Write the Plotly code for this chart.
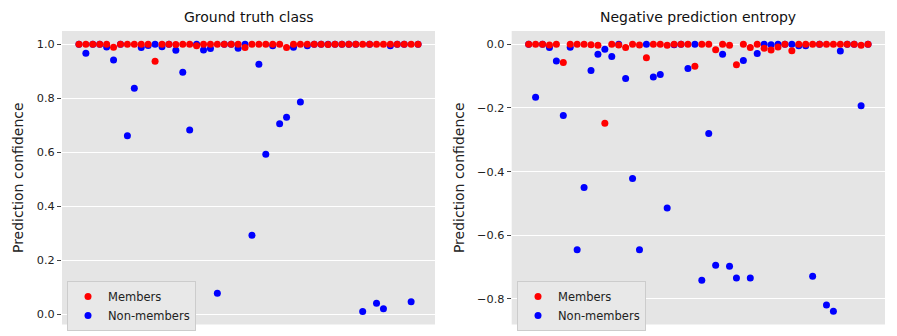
"""Prediction confidence of members vs non-members: ground truth class and negative entropy."""
import plotly.graph_objects as go

# sample index 0..49 (x ticks hidden)
idx = list(range(50))

# left panel: confidence on the ground-truth class
gt_members = [
    1.0, 1.0, 1.0, 1.0, 1.0, 0.989, 1.0, 1.0, 1.0, 1.0,
    1.0, 0.937, 1.0, 1.0, 0.999, 1.0, 1.0, 0.994, 1.0, 1.0,
    1.0, 1.0, 1.0, 1.0, 0.988, 1.0, 1.0, 1.0, 1.0, 1.0,
    0.988, 1.0, 1.0, 1.0, 1.0, 1.0, 0.999, 1.0, 1.0, 1.0,
    1.0, 1.0, 1.0, 1.0, 1.0, 1.0, 1.0, 1.0, 1.0, 1.0,
]
gt_nonmembers = [
    1.0, 0.967, 1.0, 1.0, 0.99, 0.942, 1.0, 0.661, 0.837, 0.988,
    0.995, 1.0, 0.991, 1.0, 0.978, 0.896, 0.683, 1.0, 0.979, 0.984,
    0.079, 1.0, 1.0, 0.985, 1.0, 0.293, 0.926, 0.593, 0.994, 0.706,
    0.730, 0.989, 0.786, 0.994, 1.0, 1.0, 1.0, 1.0, 1.0, 1.0,
    1.0, 0.011, 1.0, 0.042, 0.021, 0.994, 1.0, 1.0, 0.047, 1.0,
]

# right panel: negative prediction entropy
ent_members = [
    0.0, 0.0, 0.0, -0.002, 0.0, -0.057, 0.0, 0.0, 0.0, -0.001,
    -0.003, -0.248, 0.0, -0.002, -0.010, 0.0, -0.002, -0.042, 0.0, 0.0,
    -0.003, 0.0, 0.0, 0.0, -0.069, 0.0, 0.0, -0.017, 0.0, -0.003,
    -0.064, 0.0, -0.010, 0.0, -0.012, -0.018, -0.008, 0.0, -0.020, 0.0,
    0.0, 0.0, 0.0, 0.0, 0.0, 0.0, 0.0, 0.0, -0.003, 0.0,
]
ent_nonmembers = [
    0.0, -0.166, 0.0, -0.010, -0.052, -0.224, -0.009, -0.646, -0.450, -0.082,
    -0.031, -0.015, -0.038, 0.0, -0.107, -0.422, -0.646, 0.0, -0.103, -0.095,
    -0.515, -0.001, 0.0, -0.076, 0.0, -0.742, -0.280, -0.695, -0.031, -0.698,
    -0.735, -0.051, -0.735, -0.029, 0.0, -0.001, 0.0, 0.0, 0.0, -0.004,
    -0.004, -0.729, 0.0, -0.820, -0.839, -0.021, 0.0, 0.0, -0.193, 0.0,
]

# the page body has an 8px margin, so the figure is drawn 8px in from the window corner
OFF = 8
W, H = 897 - OFF, 336 - OFF
BG = "#E5E5E5"
FONT = "DejaVu Sans"


def px(x):  # window x -> paper fraction
    return (x - OFF) / W


def py(y):  # window y -> paper fraction
    return 1 - (y - OFF) / H


fig = go.Figure()
panels = [
    ("x", "y", "legend", gt_members, gt_nonmembers),
    ("x2", "y2", "legend2", ent_members, ent_nonmembers),
]
for xa, ya, lg, mem, non in panels:
    fig.add_trace(go.Scatter(x=idx, y=non, mode="markers", name="Non-members",
                             marker=dict(color="blue", size=7), xaxis=xa, yaxis=ya, legend=lg))
    fig.add_trace(go.Scatter(x=idx, y=mem, mode="markers", name="Members",
                             marker=dict(color="red", size=7), xaxis=xa, yaxis=ya, legend=lg))

ydom = [py(324.5), py(31)]
xcommon = dict(range=[-2.45, 51.45], showgrid=False, showticklabels=False, ticks="",
               zeroline=False, showline=False, automargin=False)
ycommon = dict(tickformat=".1f", dtick=0.2, ticks="outside", ticklen=4, tickcolor="#444",
               tickfont=dict(size=11.3, color="#222"), gridcolor="white", gridwidth=1,
               zeroline=False, showline=False, automargin=False,
               title=dict(text="Prediction confidence", font=dict(size=14, color="#222"), standoff=9))

legcommon = dict(bgcolor="#E8E8E8", bordercolor="#CCCCCC", borderwidth=1,
                 font=dict(size=11.5, color="#222"), traceorder="reversed",
                 xanchor="left", yanchor="top", itemsizing="trace",
                 tracegroupgap=0)

fig.update_layout(
    width=W, height=H, margin=dict(l=0, r=0, t=0, b=0, autoexpand=False),
    paper_bgcolor="white", plot_bgcolor=BG,
    font=dict(family=FONT, color="#222"),
    xaxis=dict(domain=[px(62), px(435)], anchor="y", **xcommon),
    yaxis=dict(domain=ydom, anchor="x", range=[-0.037, 1.049], **ycommon),
    xaxis2=dict(domain=[px(511.7), px(885)], anchor="y2", **xcommon),
    yaxis2=dict(domain=ydom, anchor="x2", range=[-0.881, 0.042], **ycommon),
    legend=dict(x=px(67), y=py(281), **legcommon),
    legend2=dict(x=px(517), y=py(281), **legcommon),
    showlegend=True,
)

for xc, txt in [(px((62 + 435) / 2), "Ground truth class"),
                (px((511.7 + 885) / 2), "Negative prediction entropy")]:
    fig.add_annotation(x=xc, y=py(17), xref="paper", yref="paper", text=txt,
                       showarrow=False, font=dict(size=14, color="#111"),
                       xanchor="center", yanchor="middle")

fig.write_html("out.html")
